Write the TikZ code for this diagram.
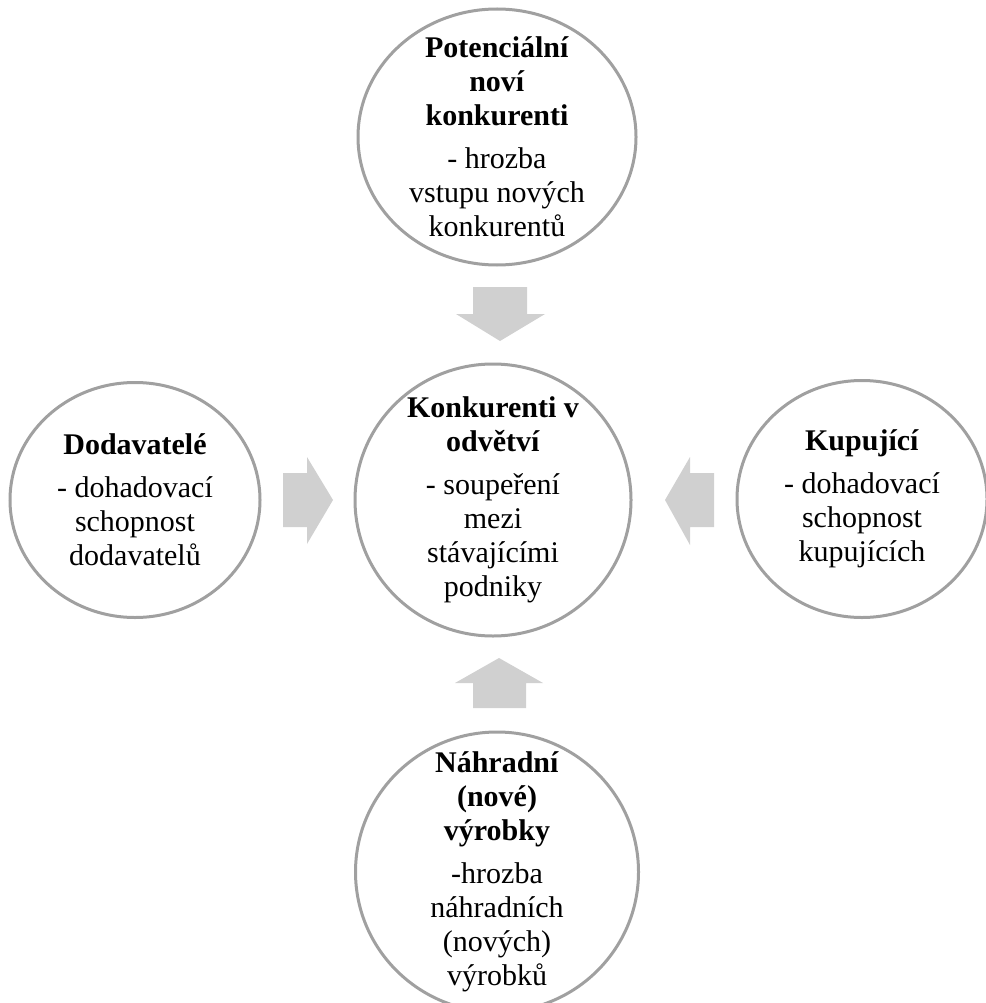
\documentclass[tikz,border=0pt]{standalone}
\usepackage{fontspec}
\setmainfont{Liberation Serif}
\usetikzlibrary{shapes.geometric}
\definecolor{ringgray}{RGB}{160,160,160}
\definecolor{arrowgray}{RGB}{208,208,208}
\begin{document}
\begin{tikzpicture}[x=1pt,y=-1pt,
  % negative inner sep keeps each ring at its given size, whatever its text
  force/.style={ellipse, draw=ringgray, line width=3pt, fill=white, inner sep=-80pt,
    align=center, font=\fontsize{30}{34}\selectfont},
  blockarrow/.style={fill=arrowgray}]
\useasboundingbox (0,0) rectangle (985,1003);

% the five forces
\node[force, minimum width=278pt, minimum height=256pt] (new) at (497,137)
  {\textbf{Potenciální}\\\textbf{noví}\\\textbf{konkurenti}\\[9pt]- hrozba\\vstupu nových\\konkurentů};
\node[force, minimum width=276pt, minimum height=272pt] (rivals) at (493,500)
  {\textbf{Konkurenti v}\\\textbf{odvětví}\\[9pt]- soupeření\\mezi\\stávajícími\\podniky};
\node[force, minimum width=250pt, minimum height=235pt] (suppliers) at (135,500)
  {\textbf{Dodavatelé}\\[9pt]- dohadovací\\schopnost\\dodavatelů};
\node[force, minimum width=250pt, minimum height=237pt] (buyers) at (862,499)
  {\textbf{Kupující}\\[9pt]- dohadovací\\schopnost\\kupujících};
\node[force, minimum width=283pt, minimum height=280pt] (substitutes) at (497,872)
  {\textbf{Náhradní}\\\textbf{(nové)}\\\textbf{výrobky}\\[9pt]-hrozba\\náhradních\\(nových)\\výrobků};

% block arrows pointing at the industry rivalry
\fill[blockarrow] (473,287) -- (527,287) -- (527,314) -- (545,314) -- (500,341)
  -- (456,314) -- (473,314) -- cycle;
\fill[blockarrow] (473,708) -- (526,708) -- (526,683) -- (543,683) -- (499,658)
  -- (455,683) -- (473,683) -- cycle;
\fill[blockarrow] (283,473) -- (307,473) -- (307,457) -- (333,500) -- (307,544)
  -- (307,527) -- (283,527) -- cycle;
\fill[blockarrow] (714,473) -- (690,473) -- (690,457) -- (665,500) -- (690,545)
  -- (690,527) -- (714,527) -- cycle;
\end{tikzpicture}
\end{document}
